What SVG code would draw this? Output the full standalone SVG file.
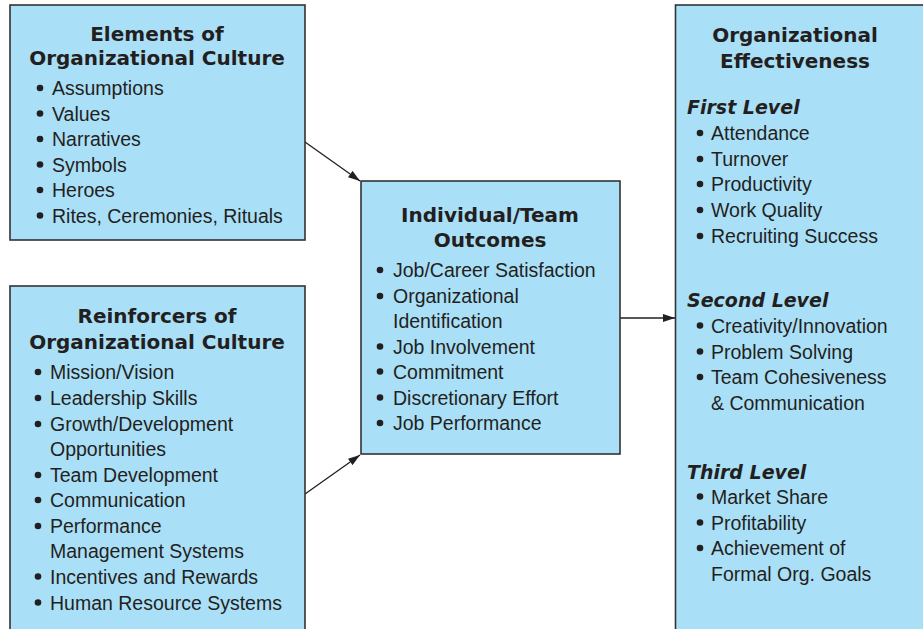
<svg xmlns="http://www.w3.org/2000/svg" width="923" height="629" viewBox="0 0 923 629">
<defs>
<style>
.box{fill:#aadff8;stroke:#333333;stroke-width:1.6}
.t{font-family:"DejaVu Sans","Liberation Sans",Arial,sans-serif;font-weight:bold;font-size:20px;fill:#231f20;text-anchor:middle}
.h{font-family:"DejaVu Sans","Liberation Sans",Arial,sans-serif;font-weight:bold;font-style:italic;font-size:19px;fill:#231f20}
.i{font-family:"Liberation Sans",Arial,sans-serif;font-size:19.5px;fill:#231f20}
.b{fill:#231f20}
.c{stroke:#231f20;stroke-width:1.3;fill:none}
</style>
<marker id="ah" markerWidth="12" markerHeight="8" refX="12" refY="4" orient="auto" markerUnits="userSpaceOnUse">
<path d="M0,0 L12,4 L0,8 Z" fill="#231f20"/>
</marker>
</defs>
<rect width="923" height="629" fill="#ffffff"/>
<g id="connectors">
<line class="c" x1="305" y1="142" x2="360" y2="181" marker-end="url(#ah)"/>
<line class="c" x1="305" y1="494" x2="360" y2="455" marker-end="url(#ah)"/>
<line class="c" x1="620" y1="318" x2="675" y2="318" marker-end="url(#ah)"/>
</g>
<g id="elements">
<rect class="box" x="10" y="5" width="295" height="235"/>
<text class="t" x="157" y="41">Elements of</text>
<text class="t" x="157" y="65">Organizational Culture</text>
<g class="b"><circle cx="40" cy="88" r="3.3"/><circle cx="40" cy="113.5" r="3.3"/><circle cx="40" cy="139" r="3.3"/><circle cx="40" cy="164.5" r="3.3"/><circle cx="40" cy="190" r="3.3"/><circle cx="40" cy="215.5" r="3.3"/></g>
<text class="i" x="52" y="95">Assumptions</text>
<text class="i" x="52" y="120.5">Values</text>
<text class="i" x="52" y="146">Narratives</text>
<text class="i" x="52" y="171.5">Symbols</text>
<text class="i" x="52" y="197">Heroes</text>
<text class="i" x="52" y="222.5">Rites, Ceremonies, Rituals</text>
</g>
<g id="reinforcers">
<rect class="box" x="10" y="286" width="295" height="360"/>
<text class="t" x="157" y="323">Reinforcers of</text>
<text class="t" x="157" y="349">Organizational Culture</text>
<g class="b"><circle cx="38" cy="372" r="3.3"/><circle cx="38" cy="398" r="3.3"/><circle cx="38" cy="424" r="3.3"/><circle cx="38" cy="475" r="3.3"/><circle cx="38" cy="500" r="3.3"/><circle cx="38" cy="526" r="3.3"/><circle cx="38" cy="576.5" r="3.3"/><circle cx="38" cy="602.5" r="3.3"/></g>
<text class="i" x="50" y="379">Mission/Vision</text>
<text class="i" x="50" y="405">Leadership Skills</text>
<text class="i" x="50" y="431">Growth/Development</text>
<text class="i" x="50" y="456">Opportunities</text>
<text class="i" x="50" y="482">Team Development</text>
<text class="i" x="50" y="507">Communication</text>
<text class="i" x="50" y="533">Performance</text>
<text class="i" x="50" y="558">Management Systems</text>
<text class="i" x="50" y="583.5">Incentives and Rewards</text>
<text class="i" x="50" y="609.5">Human Resource Systems</text>
</g>
<g id="outcomes">
<rect class="box" x="361" y="181" width="259" height="273"/>
<text class="t" x="490" y="222">Individual/Team</text>
<text class="t" x="490" y="247">Outcomes</text>
<g class="b"><circle cx="380" cy="270" r="3.3"/><circle cx="380" cy="296" r="3.3"/><circle cx="380" cy="346.5" r="3.3"/><circle cx="380" cy="371.5" r="3.3"/><circle cx="380" cy="397.5" r="3.3"/><circle cx="380" cy="423" r="3.3"/></g>
<text class="i" x="393" y="277">Job/Career Satisfaction</text>
<text class="i" x="393" y="303">Organizational</text>
<text class="i" x="393" y="328">Identification</text>
<text class="i" x="393" y="353.5">Job Involvement</text>
<text class="i" x="393" y="378.5">Commitment</text>
<text class="i" x="393" y="404.5">Discretionary Effort</text>
<text class="i" x="393" y="430">Job Performance</text>
</g>
<g id="effectiveness">
<rect class="box" x="675.5" y="5" width="260" height="640"/>
<text class="t" x="795" y="42">Organizational</text>
<text class="t" x="795" y="68">Effectiveness</text>
<text class="h" x="687" y="113.5">First Level</text>
<g class="b"><circle cx="700" cy="133" r="3.3"/><circle cx="700" cy="159" r="3.3"/><circle cx="700" cy="184" r="3.3"/><circle cx="700" cy="210" r="3.3"/><circle cx="700" cy="236" r="3.3"/></g>
<text class="i" x="711" y="140">Attendance</text>
<text class="i" x="711" y="166">Turnover</text>
<text class="i" x="711" y="191">Productivity</text>
<text class="i" x="711" y="217">Work Quality</text>
<text class="i" x="711" y="243">Recruiting Success</text>
<text class="h" x="687" y="306.5">Second Level</text>
<g class="b"><circle cx="700" cy="325.5" r="3.3"/><circle cx="700" cy="351.5" r="3.3"/><circle cx="700" cy="377" r="3.3"/></g>
<text class="i" x="711" y="332.5">Creativity/Innovation</text>
<text class="i" x="711" y="358.5">Problem Solving</text>
<text class="i" x="711" y="384">Team Cohesiveness</text>
<text class="i" x="711" y="409.5">&amp; Communication</text>
<text class="h" x="687" y="478.5">Third Level</text>
<g class="b"><circle cx="700" cy="496.5" r="3.3"/><circle cx="700" cy="522.5" r="3.3"/><circle cx="700" cy="548" r="3.3"/></g>
<text class="i" x="711" y="503.5">Market Share</text>
<text class="i" x="711" y="529.5">Profitability</text>
<text class="i" x="711" y="555">Achievement of</text>
<text class="i" x="711" y="580.5">Formal Org. Goals</text>
</g>
</svg>
